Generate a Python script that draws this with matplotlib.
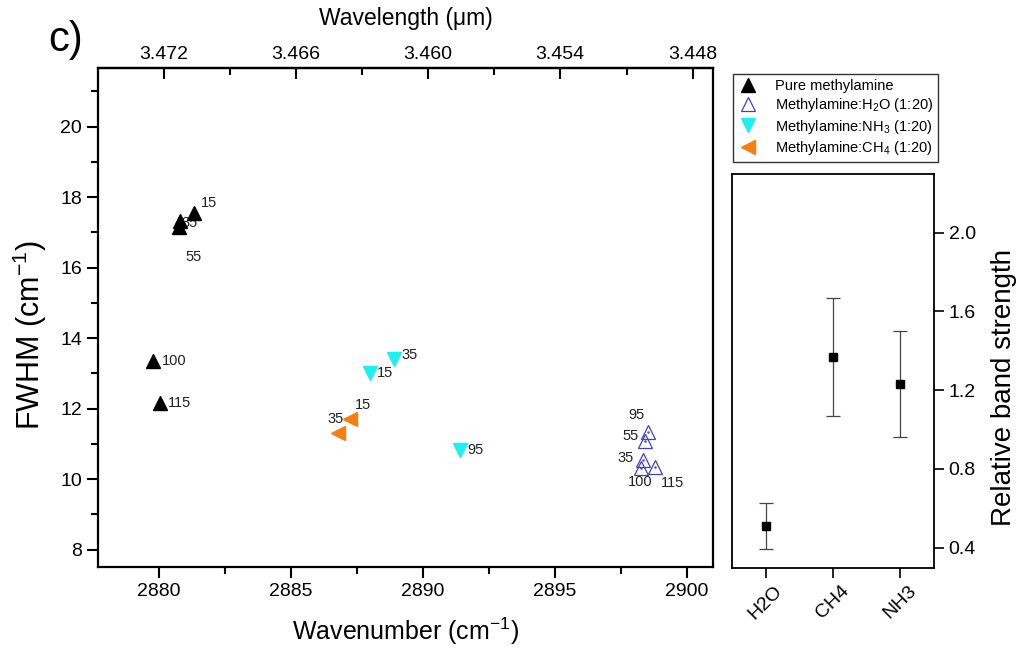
import numpy as np
import matplotlib
matplotlib.use("Agg")
import matplotlib.pyplot as plt
from matplotlib.ticker import MultipleLocator, FixedLocator, FormatStrFormatter

plt.rcParams['font.family'] = ['Liberation Sans', 'DejaVu Sans']
plt.rcParams['mathtext.fontset'] = 'custom'
plt.rcParams['mathtext.rm'] = 'Liberation Sans'
plt.rcParams['mathtext.it'] = 'Liberation Sans:italic'
plt.rcParams['mathtext.default'] = 'regular'

# FWHM vs wavenumber, one set per mixture; labels are temperatures (K)
pure_x = [2881.33, 2880.80, 2880.75, 2879.77, 2880.04]
pure_y = [17.55, 17.32, 17.15, 13.35, 12.16]
pure_lab = ['15', '35', '55', '100', '115']

h2o_x = [2898.52, 2898.41, 2898.33, 2898.26, 2898.79]
h2o_y = [11.34, 11.08, 10.54, 10.32, 10.35]
h2o_lab = ['95', '55', '35', '100', '115']

nh3_x = [2888.90, 2887.99, 2891.40]
nh3_y = [13.41, 13.01, 10.83]
nh3_lab = ['35', '15', '95']

ch4_x = [2887.23, 2886.78]
ch4_y = [11.71, 11.31]
ch4_lab = ['15', '35']

# relative band strength panel
rbs_cat = ['H2O', 'CH4', 'NH3']
rbs_val = [0.51, 1.37, 1.23]
rbs_err = [0.115, 0.30, 0.27]

# label offsets in pixels (x, y) and alignment
pure_off = [(7, 10, 'left'), (1, -2, 'left'), (7, -30, 'left'), (9, 0, 'left'), (8, 0, 'left')]
h2o_off = [(-12, 17, 'center'), (-6, 5, 'right'), (-9, 2, 'right'), (-1, -14, 'center'), (17, -16, 'center')]
nh3_off = [(7, 4, 'left'), (7, 0, 'left'), (7, 0, 'left')]
ch4_off = [(5, 14, 'left'), (-2, 14, 'center')]

fig = plt.figure(figsize=(10.2, 6.52), dpi=100)
ax = fig.add_axes([98/1020, 1-567/652, 615/1020, 499/652])
ax2 = fig.add_axes([732/1020, 1-568/652, 202/1020, 394/652])

cyan = '#1cf0f0'
orange = '#f77f10'
blue = '#4040c8'

ax.plot(pure_x, pure_y, '^', color='black', ms=9.5, ls='none', label='Pure methylamine', zorder=3)
ax.plot(h2o_x, h2o_y, '^', mfc='none', mec=blue, mew=0.9, ms=10, ls='none',
        label='Methylamine:H$_2$O (1:20)', zorder=3)
ax.plot(h2o_x, h2o_y, '.', color=blue, ms=1.5, ls='none', zorder=3)
ax.plot(nh3_x, nh3_y, 'v', color=cyan, ms=9.5, ls='none', label='Methylamine:NH$_3$ (1:20)', zorder=3)
ax.plot(ch4_x, ch4_y, '<', color=orange, ms=9.5, ls='none', label='Methylamine:CH$_4$ (1:20)', zorder=3)

for xs, ys, labs, offs in [(pure_x, pure_y, pure_lab, pure_off), (h2o_x, h2o_y, h2o_lab, h2o_off),
                           (nh3_x, nh3_y, nh3_lab, nh3_off), (ch4_x, ch4_y, ch4_lab, ch4_off)]:
    for x, y, t, (dx, dy, ha) in zip(xs, ys, labs, offs):
        ax.annotate(t, (x, y), xytext=(dx, dy), textcoords='offset pixels',
                    ha=ha, va='center', fontsize=10.5, color='#222222', zorder=2)

ax.set_xlim(2877.69, 2900.98)
ax.set_ylim(7.51, 21.66)
ax.xaxis.set_major_locator(MultipleLocator(5))
ax.xaxis.set_minor_locator(MultipleLocator(2.5))
ax.yaxis.set_major_locator(MultipleLocator(2))
ax.yaxis.set_minor_locator(MultipleLocator(1))
ax.tick_params(which='both', direction='out', width=1.5, labelsize=14, top=False, right=False)
ax.tick_params(which='major', length=8)
ax.tick_params(which='minor', length=5)
for s in ax.spines.values():
    s.set_linewidth(1.6)
ax.set_xlabel('Wavenumber (cm$^{-1}$)', fontsize=18, labelpad=11)
ax.set_ylabel('FWHM (cm$^{-1}$)', fontsize=22, labelpad=8)
ax.yaxis.label.set_y(0.465)

top = ax.secondary_xaxis('top', functions=(lambda v: 1e4 / v, lambda v: 1e4 / v))
top.xaxis.set_major_locator(FixedLocator([3.472, 3.466, 3.460, 3.454, 3.448]))
top.xaxis.set_minor_locator(FixedLocator([3.469, 3.463, 3.457, 3.451]))
top.xaxis.set_major_formatter(FormatStrFormatter('%.3f'))
top.tick_params(which='both', direction='in', width=1.5, labelsize=14)
top.tick_params(which='major', length=8)
top.tick_params(which='minor', length=5)
top.spines['top'].set_linewidth(1.6)
top.set_xlabel('Wavelength (μm)', fontsize=16.5, labelpad=15)

fig.text(48/1020, 1-40/652, 'c)', fontsize=30, va='center', ha='left')

leg = fig.legend(loc='upper left', bbox_to_anchor=(733/1020, 1-74/652), borderaxespad=0,
                 fontsize=10.5, frameon=True, fancybox=False, edgecolor='black',
                 handletextpad=1.1, labelspacing=0.22, borderpad=0.35, handlelength=1.4)
leg.get_frame().set_linewidth(1.0)

xpos = np.arange(len(rbs_cat))
ax2.errorbar(xpos, rbs_val, yerr=rbs_err, fmt='s', color='black', ms=6,
             ecolor='#444444', elinewidth=0.9, capsize=5, capthick=0.9)
ax2.set_xlim(-0.5, 2.5)
ax2.set_ylim(0.297, 2.298)
ax2.set_xticks(xpos)
ax2.set_xticklabels(rbs_cat, rotation=45, ha='center', fontsize=14)
ax2.yaxis.set_major_locator(MultipleLocator(0.4))
ax2.yaxis.set_major_formatter(FormatStrFormatter('%.1f'))
ax2.yaxis.tick_right()
ax2.yaxis.set_label_position('right')
ax2.tick_params(direction='out', length=7, width=1.2, labelsize=14)
for s in ax2.spines.values():
    s.set_linewidth(1.3)
ax2.set_ylabel('Relative band strength', fontsize=20, labelpad=11)
ax2.yaxis.label.set_y(0.457)

fig.savefig('out.png', dpi=100)
